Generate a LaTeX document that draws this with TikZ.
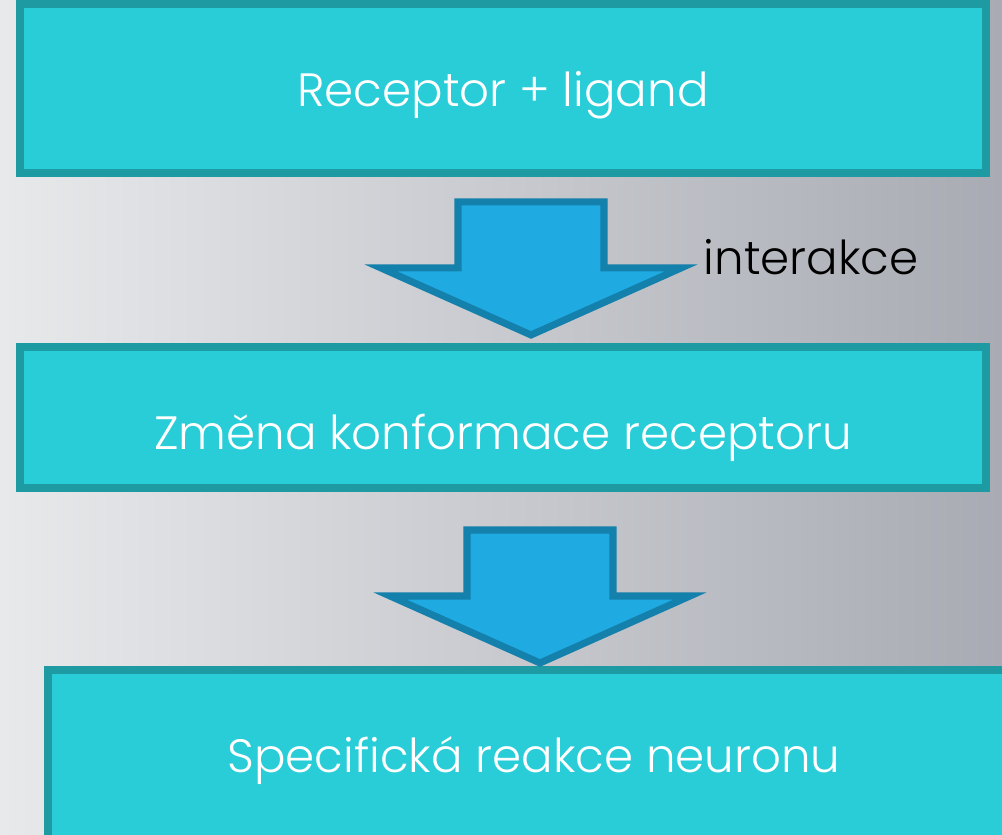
\documentclass[tikz,border=0pt]{standalone}
\usepackage{fontspec}
\setmainfont{Poppins}[UprightFont=* Light]
\usepackage{tikz}

\definecolor{boxfill}{RGB}{40,205,216}
\definecolor{boxline}{RGB}{30,155,162}
\definecolor{arrfill}{RGB}{31,170,226}
\definecolor{arrline}{RGB}{20,128,172}
\definecolor{bgleft}{RGB}{232,233,235}
\definecolor{bgright}{RGB}{168,171,179}

\begin{document}
\begin{tikzpicture}[
    stepbox/.style={draw=boxline, line width=2.2pt, fill=boxfill, text=white,
      inner sep=0pt, text height=0pt, text depth=0pt,
      font=\fontsize{13.3}{16}\selectfont},
    arrowblk/.style={draw=arrline, line width=2pt, fill=arrfill, line join=miter}
  ]
    % pozadi
    \clip (0,0) rectangle (10.02,8.35);
    \shade[left color=bgleft, right color=bgright] (0,0) rectangle (10.02,8.35);

    % sipka dolu: \downArrow{x}{y} (spicka)
    \newcommand{\downArrow}[2]{
      \draw[arrowblk] (#1,#2) -- ++(-1.5,0.67) -- ++(0.77,0) -- ++(0,0.66)
        -- ++(1.46,0) -- ++(0,-0.66) -- ++(0.77,0) -- cycle;
    }

    % bloky
    \node[stepbox, minimum width=9.66cm, minimum height=1.69cm] (ligand) at (5.03,7.465)
      {\raisebox{-0.185cm}{Receptor + ligand}};
    \node[stepbox, minimum width=9.66cm, minimum height=1.41cm] (zmena) at (5.03,4.175)
      {\raisebox{-0.325cm}{Změna konformace receptoru}};
    \node[stepbox, minimum width=9.72cm, minimum height=1.95cm] (reakce) at (5.34,0.675)
      {\raisebox{-0.055cm}{Specifická reakce neuronu}};

    % sipky
    \downArrow{5.31}{5.00}
    \downArrow{5.40}{1.72}
    \node[anchor=base west, font=\fontsize{13.3}{16}\selectfont, inner sep=0pt] (interakce)
      at (7.03,5.60) {interakce};
  \end{tikzpicture}
\end{document}
